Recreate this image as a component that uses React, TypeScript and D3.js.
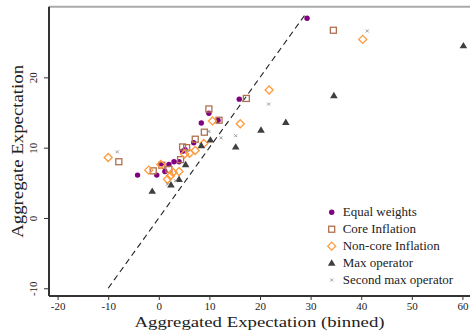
import { useEffect, useRef } from 'react'
import * as d3 from 'd3'

// Each series: [binned expectation, aggregate expectation]
const equalWeights: [number, number][] = [
  [29.3, 28.4], [15.9, 16.9], [9.9, 14.9], [11.7, 13.9], [8.4, 13.5],
  [6.9, 10.7], [5.2, 9.7], [4.7, 9.5], [3.0, 8.0], [4.0, 8.0],
  [2.0, 7.6], [0.5, 7.7], [1.2, 6.6], [-0.4, 6.1], [-4.2, 6.1],
]
const coreInflation: [number, number][] = [
  [34.5, 26.7], [17.3, 17.0], [9.9, 15.5], [11.9, 13.9], [9.0, 12.2],
  [7.2, 11.2], [4.7, 10.1], [5.5, 10.0], [4.3, 8.3], [0.6, 7.5],
  [2.0, 6.9], [-1.1, 6.7], [-7.9, 8.0],
]
const nonCoreInflation: [number, number][] = [
  [40.3, 25.4], [21.8, 18.2], [16.1, 13.4], [10.6, 13.8], [8.9, 10.6],
  [7.2, 9.6], [6.1, 9.2], [5.1, 9.1], [0.4, 7.6], [-2.0, 6.8],
  [-10.0, 8.6], [4.0, 6.6], [2.8, 6.5], [1.7, 5.5], [2.3, 6.0],
]
const maxOperator: [number, number][] = [
  [60.2, 24.5], [34.6, 17.4], [25.1, 13.6], [20.2, 12.5], [15.2, 10.1],
  [10.2, 11.1], [8.4, 10.3], [5.3, 7.6], [4.0, 5.5], [2.4, 4.7], [-1.3, 3.8],
]
const secondMaxOperator: [number, number][] = [
  [41.2, 26.6], [21.7, 16.2], [15.2, 11.7], [12.3, 11.4], [9.9, 12.3],
  [-8.2, 9.4], [3.3, 5.3], [1.7, 4.8], [5.6, 9.6],
]

const xTicks = [-20, -10, 0, 10, 20, 30, 40, 50, 60]
const yTicks = [-10, 0, 10, 20]
const diagonal = [-10, 29]
const legendLabels = ['Equal weights', 'Core Inflation', 'Non-core Inflation', 'Max operator', 'Second max operator']

const FONT = '"Liberation Serif", "Times New Roman", serif'
const COLORS = {
  equal: '#800080',
  core: '#b0704e',
  noncore: '#ff9a3c',
  max: '#3f3f3f',
  second: '#9a9a9a',
}

type Sel = d3.Selection<SVGGElement, unknown, null, undefined>

function drawMarker(g: Sel, kind: number, cx: number, cy: number) {
  if (kind === 0) {
    g.append('circle').attr('cx', cx).attr('cy', cy).attr('r', 2.7).attr('fill', COLORS.equal)
  } else if (kind === 1) {
    g.append('rect').attr('x', cx - 3).attr('y', cy - 3).attr('width', 6).attr('height', 6)
      .attr('fill', 'none').attr('stroke', COLORS.core).attr('stroke-width', 1.3)
  } else if (kind === 2) {
    g.append('path').attr('d', `M${cx},${cy - 4}L${cx + 4},${cy}L${cx},${cy + 4}L${cx - 4},${cy}Z`)
      .attr('fill', 'none').attr('stroke', COLORS.noncore).attr('stroke-width', 1.3)
  } else if (kind === 3) {
    g.append('path').attr('d', `M${cx},${cy - 3.8}L${cx + 3.8},${cy + 2.6}L${cx - 3.8},${cy + 2.6}Z`)
      .attr('fill', COLORS.max)
  } else {
    g.append('path').attr('d', `M${cx - 1.5},${cy - 1.5}L${cx + 1.5},${cy + 1.5}M${cx + 1.5},${cy - 1.5}L${cx - 1.5},${cy + 1.5}`)
      .attr('stroke', COLORS.second).attr('stroke-width', 1)
  }
}

export default function App() {
  const svgRef = useRef<SVGSVGElement>(null)

  useEffect(() => {
    if (!svgRef.current) return
    const W = 470, H = 332
    const left = 49, right = 470, top = 6.7, bottom = 296

    const svg = d3.select(svgRef.current)
    svg.selectAll('*').remove()
    svg.attr('width', W).attr('height', H)

    const g = svg.append('g') as unknown as Sel

    const x = d3.scaleLinear().domain([-21.7, 61.5]).range([left, right])
    const y = d3.scaleLinear().domain([-11.1, 30.05]).range([bottom, top])

    // frame: gray top, dark left/bottom
    g.append('line').attr('x1', left).attr('x2', right).attr('y1', top).attr('y2', top)
      .attr('stroke', '#aaaaaa').attr('stroke-width', 2)

    // diagonal 45° line
    g.append('line')
      .attr('x1', x(diagonal[0])).attr('y1', y(diagonal[0]))
      .attr('x2', x(diagonal[1])).attr('y2', y(diagonal[1]))
      .attr('stroke', '#222').attr('stroke-width', 1.1).attr('stroke-dasharray', '6,4')

    // points
    const series = [equalWeights, coreInflation, nonCoreInflation, maxOperator, secondMaxOperator]
    series.forEach((pts, k) => {
      pts.forEach(([px, py]) => drawMarker(g, k, x(px), y(py)))
    })

    // X axis
    const xa = g.append('g').attr('transform', `translate(0,${bottom})`)
      .call(d3.axisBottom(x).tickValues(xTicks).tickSize(4).tickPadding(2).tickFormat(d => String(d)))
    xa.select('.domain').attr('stroke', '#333').attr('stroke-width', 2)
      .attr('d', `M${left},0H${right}`)
    xa.selectAll('.tick line').attr('stroke', '#333')
    xa.selectAll('text').attr('font-family', FONT).attr('font-size', 11).attr('fill', '#222')

    // Y axis
    const ya = g.append('g').attr('transform', `translate(${left},0)`)
      .call(d3.axisLeft(y).tickValues(yTicks).tickSize(5).tickFormat(d => String(d)))
    ya.select('.domain').attr('stroke', '#333').attr('stroke-width', 2)
      .attr('d', `M0,${top}V${bottom}`)
    ya.selectAll('.tick line').attr('stroke', '#333')
    ya.selectAll('.tick text')
      .attr('x', null).attr('dy', null)
      .attr('text-anchor', 'middle')
      .attr('transform', 'translate(-12,0) rotate(-90)')
      .attr('font-family', FONT).attr('font-size', 11).attr('fill', '#222')

    // axis titles
    g.append('text')
      .attr('x', (left + right) / 2).attr('y', 327)
      .attr('text-anchor', 'middle')
      .attr('font-family', FONT).attr('font-size', 15).attr('fill', '#222')
      .attr('textLength', 250).attr('lengthAdjust', 'spacingAndGlyphs')
      .text('Aggregated Expectation (binned)')

    g.append('text')
      .attr('transform', `translate(22.5,${(top + bottom) / 2}) rotate(-90)`)
      .attr('text-anchor', 'middle')
      .attr('font-family', FONT).attr('font-size', 17).attr('fill', '#222')
      .attr('textLength', 173).attr('lengthAdjust', 'spacingAndGlyphs')
      .text('Aggregate Expectation')

    // legend
    const legendY = d3.scalePoint<string>().domain(legendLabels).range([212.3, 280])
    legendLabels.forEach((lab, k) => {
      const ly = legendY(lab) as number
      drawMarker(g, k, 331.7, ly)
      g.append('text')
        .attr('x', 342.7).attr('y', ly + 4)
        .attr('font-family', FONT).attr('font-size', 13).attr('fill', '#222')
        .text(lab)
    })
  }, [])

  return (
    <div style={{ position: 'absolute', left: 0, top: 0 }}>
      <svg ref={svgRef} style={{ display: 'block', background: '#fff' }} />
    </div>
  )
}
